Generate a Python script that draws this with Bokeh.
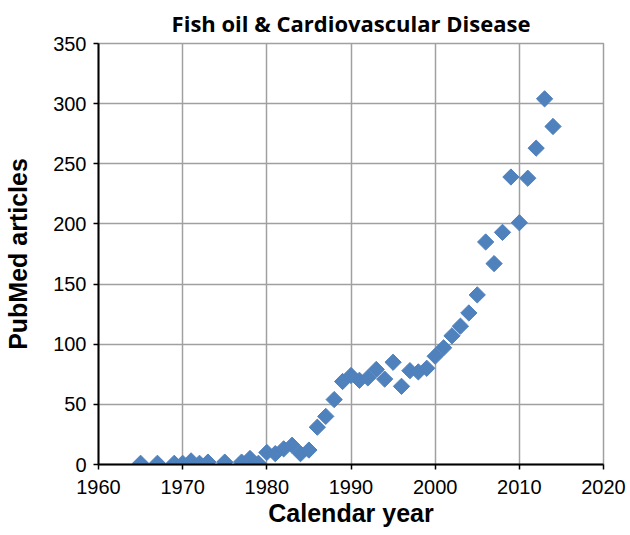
import numpy as np
from bokeh.plotting import figure
from bokeh.models import Range1d, FixedTicker, ColumnDataSource
from bokeh.embed import file_html
from bokeh.resources import INLINE

years = [1965, 1967, 1969, 1970, 1971, 1972, 1973, 1975, 1977, 1978, 1979,
         1980, 1981, 1982, 1983, 1984, 1985, 1986, 1987, 1988, 1989,
         1990, 1991, 1992, 1993, 1994, 1995, 1996, 1997, 1998, 1999,
         2000, 2001, 2002, 2003, 2004, 2005, 2006, 2007, 2008, 2009,
         2010, 2011, 2012, 2013, 2014]
articles = [1, 1, 1, 1, 3, 1, 2, 2, 2, 5, 1,
            10, 9, 13, 16, 9, 12, 31, 40, 54, 69,
            74, 70, 72, 79, 71, 85, 65, 78, 77, 80,
            90, 97, 107, 115, 126, 141, 185, 167, 193, 239,
            201, 238, 263, 304, 281]
x_ticks = [1960, 1970, 1980, 1990, 2000, 2010, 2020]
y_ticks = [0, 50, 100, 150, 200, 250, 300, 350]

src = ColumnDataSource(dict(year=years, n=articles))

p = figure(width=630, height=535, output_backend="svg", toolbar_location=None,
           x_range=Range1d(1960, 2020), y_range=Range1d(0, 350),
           min_border_left=98, min_border_right=27, min_border_top=43,
           min_border_bottom=71, background_fill_color="white")

p.title.text = "Fish oil & Cardiovascular Disease"
p.title.align = "center"
p.title.text_font = "Open Sans"
p.title.text_font_style = "bold"
p.title.text_font_size = "22px"
p.title.text_color = "black"
p.title.standoff = 11

p.outline_line_color = "#A0A0A0"
p.outline_line_width = 1.5

for g in (p.xgrid, p.ygrid):
    g.grid_line_color = "#A0A0A0"
    g.grid_line_width = 1.5
p.xgrid.ticker = FixedTicker(ticks=x_ticks)
p.ygrid.ticker = FixedTicker(ticks=y_ticks)

p.xaxis.ticker = FixedTicker(ticks=x_ticks)
p.yaxis.ticker = FixedTicker(ticks=y_ticks)
p.xaxis.axis_label = "Calendar year"
p.yaxis.axis_label = "PubMed articles"

for ax in (p.xaxis[0], p.yaxis[0]):
    ax.axis_line_color = "black"
    ax.axis_line_width = 2
    ax.major_tick_line_color = "black"
    ax.major_tick_line_width = 1.5
    ax.major_tick_out = 5
    ax.major_tick_in = 0
    ax.minor_tick_line_color = None
    ax.major_label_text_font = "Liberation Sans"
    ax.major_label_text_font_size = "20px"
    ax.major_label_text_color = "black"
    ax.axis_label_text_font = "Liberation Sans"
    ax.axis_label_text_font_style = "bold"
    ax.axis_label_text_font_size = "25px"
    ax.axis_label_text_color = "black"

p.xaxis.major_label_standoff = 10
p.xaxis.axis_label_standoff = 2
p.yaxis.major_label_standoff = 7
p.yaxis.axis_label_standoff = 18

p.scatter("year", "n", source=src, marker="square", angle=np.pi / 4,
          size=11.5, fill_color="#4F81BD", line_color="#4F81BD")

open("out.html", "w").write(file_html(p, INLINE))
